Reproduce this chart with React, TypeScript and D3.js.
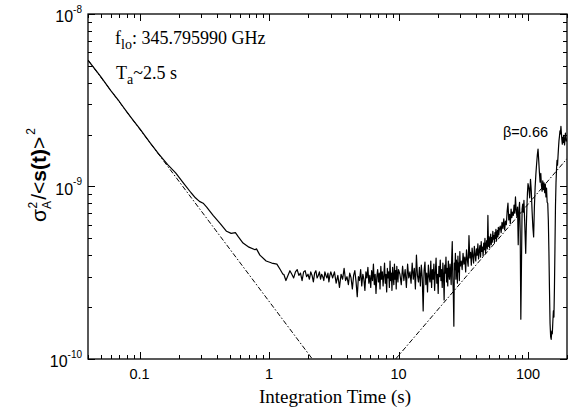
import React from "react";
import * as d3 from "d3";

// Allan variance, values in units of 1e-10
const smoothTimes = [
  0.04, 0.05, 0.06, 0.07, 0.08, 0.09, 0.1, 0.12, 0.14, 0.165, 0.19, 0.22, 0.25, 0.27, 0.29, 0.31,
  0.33, 0.37, 0.42, 0.47, 0.51, 0.55, 0.58, 0.63, 0.7, 0.78, 0.8, 0.85, 0.95, 1.05, 1.15, 1.22, 1.28,
];
const smoothValues = [
  54, 43.5, 36, 31, 27, 24, 21.7, 18, 15.5, 13.4, 12, 10.4, 9.2, 8.6, 8.2, 8.0,
  7.6, 6.8, 6.1, 5.5, 5.35, 5.4, 5.1, 4.7, 4.45, 4.3, 4.35, 4.0, 3.7, 3.6, 3.55, 3.3, 3.1,
];

// noisy part: sampled on a regular grid (start, step) per segment
const segA = { start: 1.3, step: 0.05, values: [
  3.10, 2.85, 3.05, 3.25, 3.10, 2.95, 3.20, 3.30, 3.05, 3.15, 2.85, 3.20, 3.25, 3.00, 3.10, 2.90, 3.20, 3.05,
  2.80, 3.15, 3.25, 2.95, 3.05, 3.20, 2.90, 3.10, 3.00, 2.85, 3.20, 3.05, 2.95, 3.15, 2.80, 3.05, 3.20,
] };
const segB = { start: 3.1, step: 0.1, values: [
  2.95, 3.20, 2.75, 3.05, 2.60, 3.10, 2.90, 3.35, 2.85, 3.00,
  2.70, 3.15, 2.95, 2.55, 3.05, 3.25, 2.80, 2.30, 3.00, 2.85,
  3.30, 2.65, 3.10, 2.90, 2.50, 3.20, 2.95, 3.40, 2.75, 3.05,
  2.60, 3.25, 2.85, 3.55, 2.70, 3.10, 2.40, 3.00, 3.30, 2.80,
  3.15, 2.55, 3.45, 2.90, 3.20, 2.65, 3.05, 3.60, 2.75, 3.10,
  2.45, 3.35, 2.95, 3.20, 2.60, 3.70, 2.85, 3.15, 2.50, 3.40,
  3.00, 2.70, 3.55, 2.90, 3.25, 2.55, 3.45, 3.05, 2.80, 3.30,
] };
const segC = { start: 10.25, step: 0.25, values: [
  3.10, 2.70, 3.45, 2.85, 3.30, 2.60, 3.55, 2.95, 3.20, 2.75,
  3.60, 2.90, 3.35, 2.55, 4.00, 3.05, 2.80, 3.40, 2.65, 3.50,
  2.95, 1.90, 3.25, 3.65, 2.70, 3.15, 2.45, 3.50, 3.00, 2.80,
  3.70, 2.60, 3.30, 2.90, 3.55, 2.50, 3.20, 3.85, 2.75, 3.10,
  2.40, 3.45, 3.00, 3.75, 2.85, 3.30, 2.60, 3.60, 3.05, 2.20,
  3.50, 3.15, 3.90, 2.80, 3.35, 2.65, 3.70, 3.10, 2.90, 3.55,
  3.20, 2.70, 3.85, 4.80, 3.00, 2.40, 1.55, 3.60, 3.30, 4.10,
  2.90, 3.75, 3.40, 2.75, 3.95, 3.20, 3.60, 2.85, 4.20, 3.45,
] };
const segD = { start: 30.5, step: 0.5, values: [
  3.70, 3.30, 4.10, 3.55, 3.90, 3.20, 4.30, 3.75, 3.45, 5.20,
  3.85, 4.15, 3.50, 4.40, 3.95, 3.60, 4.50, 4.05, 3.70, 4.35,
  4.00, 4.65, 3.80, 4.25, 4.55, 3.90, 4.80, 4.20, 4.45, 3.95,
  4.70, 4.30, 5.00, 4.10, 4.60, 4.85, 4.35, 6.80, 4.50, 5.10,
  4.40, 4.90, 5.30, 4.60, 5.05, 4.75, 5.50, 4.95, 5.20, 4.70,
  5.40, 5.00, 5.65, 4.85, 5.30, 5.55, 5.10, 5.80, 5.25, 5.60,
] };
const segE = { start: 61, step: 1, values: [
  5.90, 5.40, 6.20, 5.70, 6.50, 5.60, 6.30, 6.00, 7.20, 8.00,
  6.40, 6.90, 6.10, 7.40, 6.60, 7.10, 6.80, 7.80, 7.00, 8.70,
  7.30, 6.70, 7.60, 4.60, 7.20, 8.10, 5.50, 1.70, 3.50, 7.40,
  7.90, 7.10, 8.30, 6.60, 5.20, 4.10, 5.80, 7.50, 9.20, 10.4,
] };
const segF = { start: 101.5, step: 1.5, values: [
  9.8, 8.6, 11.0, 9.4, 7.2, 5.8, 5.1, 7.6, 9.9, 11.8,
  13.5, 15.2, 16.5, 14.1, 12.0, 10.6, 11.9, 10.1, 9.4, 10.8,
  9.6, 10.5, 9.2, 10.3, 8.7, 9.8, 8.1, 8.0, 6.4, 4.2,
  2.5, 1.6, 1.35, 1.30, 1.45, 1.40, 1.65, 1.90, 1.75, 2.6,
  4.5, 7.8, 10.5, 12.6, 14.2, 13.3, 15.0, 16.8, 18.5, 19.6,
  21.0, 20.2, 22.3, 20.5, 18.7, 17.6, 19.3, 18.0, 19.8, 18.2,
  17.4, 18.9, 20.4, 19.1, 18.3, 19.0,
] };
const noisySegments = [segA, segB, segC, segD, segE, segF];

// fitted asymptotes (dash-dot)
const whiteFitTimes = [0.04, 2.16];
const whiteFitValues = [54, 1.0];
const driftFitTimes = [9.5, 200];
const driftFitValues = [1.0, 14.5];

const xMajorTicks = [0.1, 1, 10, 100];
const xTickLabels = ["0.1", "1", "10", "100"];
const yMajorTicks = [1e-10, 1e-9, 1e-8];
const yTickExponents = ["-10", "-9", "-8"];

const W = 570;
const H = 415;
const left = 88, right = 567, top = 14, bottom = 359;

export default function App() {
  const x = d3.scaleLog().domain([0.04, 200]).range([left, right]);
  const y = d3.scaleLog().domain([1e-10, 1e-8]).range([bottom, top]);

  const pts: [number, number][] = smoothTimes.map((t, i) => [t, smoothValues[i]]);
  noisySegments.forEach((s) =>
    s.values.forEach((v, i) => pts.push([s.start + s.step * i, v]))
  );

  const line = d3
    .line<[number, number]>()
    .x((d) => x(d[0]))
    .y((d) => y(d[1] * 1e-10));

  const whiteFit = whiteFitTimes.map((t, i) => [t, whiteFitValues[i]] as [number, number]);
  const driftFit = driftFitTimes.map((t, i) => [t, driftFitValues[i]] as [number, number]);

  const isMajor = (v: number) => Math.abs(Math.log10(v) - Math.round(Math.log10(v))) < 1e-6;
  const xt = x.ticks();
  const yt = y.ticks();

  const sans = "Arial, 'Liberation Sans', Helvetica, sans-serif";
  const serif = "'Times New Roman', 'Liberation Serif', serif";

  return (
    <svg
      width={W}
      height={H}
      style={{ position: "absolute", left: 0, top: 0, background: "#fff" }}
    >
      <defs>
        <clipPath id="plot">
          <rect x={left} y={top} width={right - left} height={bottom - top} />
        </clipPath>
      </defs>

      {/* ticks, all pointing inward */}
      <g stroke="#000" strokeWidth={1}>
        {xt.map((t, i) => {
          const len = isMajor(t) ? 7 : 4;
          const px = Math.round(x(t)) + 0.5;
          return (
            <g key={"xt" + i}>
              <line x1={px} x2={px} y1={bottom} y2={bottom - len} />
              <line x1={px} x2={px} y1={top} y2={top + len} />
            </g>
          );
        })}
        {yt.map((t, i) => {
          const len = isMajor(t) ? 7 : 4;
          const py = Math.round(y(t)) + 0.5;
          return (
            <g key={"yt" + i}>
              <line x1={left} x2={left + len} y1={py} y2={py} />
              <line x1={right} x2={right - len} y1={py} y2={py} />
            </g>
          );
        })}
      </g>

      <g clipPath="url(#plot)">
        <path
          d={line(whiteFit) || ""}
          fill="none"
          stroke="#000"
          strokeWidth={1}
          strokeDasharray="5,2,1.5,2"
        />
        <path
          d={line(driftFit) || ""}
          fill="none"
          stroke="#000"
          strokeWidth={1}
          strokeDasharray="5,2,1.5,2"
        />
        <path d={line(pts) || ""} fill="none" stroke="#000" strokeWidth={1.2} strokeLinejoin="round" />
      </g>

      <rect
        x={left}
        y={top}
        width={right - left}
        height={bottom - top}
        fill="none"
        stroke="#000"
        strokeWidth={1.3}
      />

      {/* x tick labels */}
      {xMajorTicks.map((t, i) => (
        <text key={"xl" + i} x={x(t)} y={379} textAnchor="middle" fontFamily={sans} fontSize={14.5}>
          {xTickLabels[i]}
        </text>
      ))}

      {/* y tick labels */}
      {yMajorTicks.map((t, i) => (
        <text key={"yl" + i} x={82} y={y(t) + 8} textAnchor="end" fontFamily={sans} fontSize={16}>
          10
          <tspan fontSize={10} dy={-9.5}>
            {yTickExponents[i]}
          </tspan>
        </text>
      ))}

      <text x={335} y={403} textAnchor="middle" fontFamily={serif} fontSize={19}>
        Integration Time (s)
      </text>

      <text transform="rotate(-90)" x={-175} y={46} textAnchor="middle" fontFamily={sans} fontSize={21}>
        σ
        <tspan fontSize={12} dy={5}>A</tspan>
        <tspan fontSize={12} dx={-7.5} dy={-14}>2</tspan>
        <tspan dy={9} dx={2}>/&lt;</tspan>
        <tspan fontWeight="bold">s(t)</tspan>
        <tspan>&gt;</tspan>
        <tspan fontSize={12} dy={-11} dx={2}>2</tspan>
      </text>

      <text x={115} y={44} fontFamily={serif} fontSize={18}>
        f<tspan fontSize={14} dy={5}>lo</tspan>
        <tspan dy={-5}>: 345.795990 GHz</tspan>
      </text>
      <text x={116} y={79} fontFamily={serif} fontSize={18}>
        T<tspan fontSize={14} dy={5}>a</tspan>
        <tspan dy={-5}>~2.5 s</tspan>
      </text>

      <text x={503} y={137} fontFamily={sans} fontSize={14.5}>
        β=0.66
      </text>
    </svg>
  );
}
